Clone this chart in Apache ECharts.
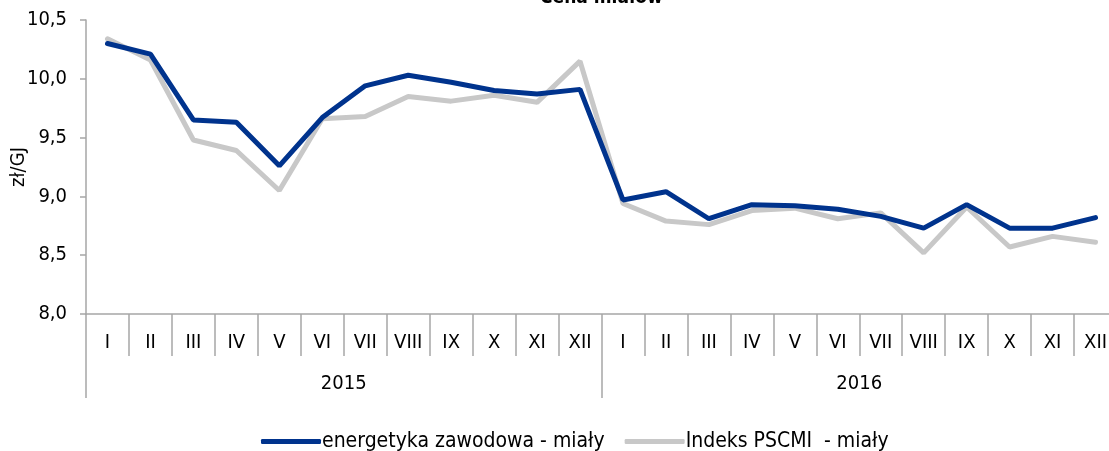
<!DOCTYPE html>
<html>
<head>
<meta charset="utf-8">
<script src="https://cdn.jsdelivr.net/npm/echarts@6/dist/echarts.min.js"></script>
<style>
  html, body { margin: 0; padding: 0; background: #fff; overflow: hidden; }
  #line-chart { width: 1118px; height: 451px; }
</style>
</head>
<body>
<div id="line-chart"></div>
<script>
var months = ['I','II','III','IV','V','VI','VII','VIII','IX','X','XI','XII',
              'I','II','III','IV','V','VI','VII','VIII','IX','X','XI','XII'];
var years = ['2015', '2016'];

var energetyka = [10.30, 10.21, 9.65, 9.63, 9.26, 9.67, 9.94, 10.03, 9.97, 9.90, 9.87, 9.91,
                  8.97, 9.04, 8.81, 8.93, 8.92, 8.89, 8.83, 8.73, 8.93, 8.73, 8.73, 8.82];
var pscmi = [10.34, 10.16, 9.48, 9.39, 9.05, 9.66, 9.68, 9.85, 9.81, 9.86, 9.80, 10.15,
             8.94, 8.79, 8.76, 8.88, 8.90, 8.81, 8.86, 8.52, 8.91, 8.57, 8.66, 8.61];

var font = "'Liberation Sans Narrow', 'DejaVu Sans Condensed', 'Liberation Sans', sans-serif";
var axisGray = '#a6a6a6';

var myChart = echarts.init(document.getElementById('line-chart'));

option = {
    animation: false,
    textStyle: { fontFamily: font },
    title: {
        text: 'Cena miałów',
        left: 535,
        top: -16,
        textStyle: { fontFamily: font, fontSize: 19, fontWeight: 'bold', color: '#000' }
    },
    color: ['#00338d', '#c8c8c8'],
    legend: {
        top: 426,
        left: 256,
        icon: 'roundRect',
        itemWidth: 60,
        itemHeight: 5,
        itemGap: 20,
        textStyle: { fontFamily: font, fontSize: 21, color: '#000', padding: [0, 0, 0, -4] },
        data: ['energetyka zawodowa - miały', 'Indeks PSCMI  - miały']
    },
    grid: { left: 86, right: 1, top: 20, bottom: 137, outerBoundsMode: 'none', containLabel: false },
    xAxis: [
        {
            type: 'category',
            data: months,
            boundaryGap: true,
            axisLine: { lineStyle: { color: axisGray, width: 1.5 } },
            axisTick: { show: true, interval: 0, length: 42, lineStyle: { color: axisGray, width: 1.5 } },
            axisLabel: { interval: 0, margin: 19, fontSize: 20, color: '#000', fontFamily: font }
        },
        {
            type: 'category',
            data: years,
            position: 'bottom',
            offset: 42,
            boundaryGap: true,
            axisLine: { show: false },
            axisTick: { show: true, interval: 0, length: 42, lineStyle: { color: axisGray, width: 1.5 } },
            axisLabel: { interval: 0, margin: 18, fontSize: 20, color: '#000', fontFamily: font }
        }
    ],
    yAxis: {
        type: 'value',
        min: 8,
        max: 10.5,
        interval: 0.5,
        name: 'zł/GJ',
        nameLocation: 'middle',
        nameGap: 57,
        nameMoveOverlap: false,
        nameTextStyle: { fontSize: 20, color: '#000', fontFamily: font },
        splitLine: { show: false },
        axisLine: { show: true, lineStyle: { color: axisGray, width: 1.5 } },
        axisTick: { show: true, length: 6, lineStyle: { color: axisGray, width: 1.5 } },
        axisLabel: {
            fontSize: 20, color: '#000', margin: 19, fontFamily: font,
            formatter: function (v) { return v.toFixed(1).replace('.', ','); }
        }
    },
    series: [
        {
            name: 'energetyka zawodowa - miały',
            type: 'line',
            xAxisIndex: 0,
            data: energetyka,
            showSymbol: false,
            lineStyle: { width: 5, color: '#00338d', cap: 'round' },
            z: 3
        },
        {
            name: 'Indeks PSCMI  - miały',
            type: 'line',
            xAxisIndex: 0,
            data: pscmi,
            showSymbol: false,
            lineStyle: { width: 5, color: '#c8c8c8', cap: 'round' },
            z: 2
        }
    ]
};

myChart.setOption(option, true);
</script>
</body>
</html>
